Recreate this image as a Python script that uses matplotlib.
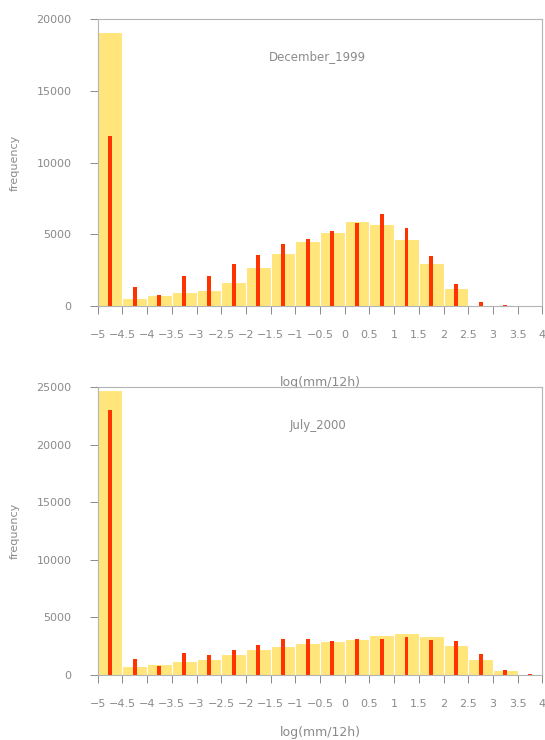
################################################################################
# Precipitation histograms: two months, log(mm/12h)
################################################################################

import numpy as np
from matplotlib import pyplot as plt
from matplotlib.ticker import FuncFormatter


################################################################################
# Data
#
# bin edges (log10 of mm/12h), bins of 0.5________________________________________

edges = [-5.0, -4.5, -4.0, -3.5, -3.0, -2.5, -2.0, -1.5, -1.0, -0.5,
         0.0, 0.5, 1.0, 1.5, 2.0, 2.5, 3.0, 3.5, 4.0]

# December 1999________________________________________________________________

dec_wide = [19070, 540, 750, 960, 1140, 1700, 2750, 3680, 4510,
            5150, 5900, 5730, 4660, 3010, 1260, 100, 20, 0]
dec_thin = [11840, 1300, 790, 2120, 2120, 2940, 3520, 4310, 4670,
            5220, 5800, 6430, 5430, 3470, 1560, 260, 50, 0]

# July 2000_____________________________________________________________________

jul_wide = [24750, 810, 990, 1220, 1420, 1830, 2260, 2550, 2770,
            2930, 3130, 3480, 3680, 3420, 2610, 1360, 460, 60]
jul_thin = [23040, 1360, 810, 1910, 1710, 2170, 2580, 3160, 3130,
            2990, 3100, 3160, 3300, 3010, 2930, 1800, 410, 50]

panels = [('December_1999', dec_wide, dec_thin, 20000),
          ('July_2000',     jul_wide, jul_thin, 25000)]

xticks = np.arange(-5, 4.01, 0.5)


################################################################################
# Figure
################################################################################

grey   = '#8a8a8a'
yellow = '#ffe57a'
red    = '#ff3300'

plt.rcParams['font.family'] = ['DejaVu Sans']

fig = plt.figure(figsize=(5.45, 7.40), dpi=100)

# axes positions [left, bottom, width, height]
boxes = [[0.1793, 0.5865, 0.8158, 0.3878],
         [0.1793, 0.0878, 0.8158, 0.3888]]

# x label top, in axes fraction
xlab_y = [-0.244, -0.177]

left   = np.array(edges[:-1])
width  = np.diff(edges)
centre = left + width/2.

fmt = FuncFormatter(lambda v, p: ('%g' % v).replace('-', '\u2212'))

for (title, wide, thin, ymax), box, ly in zip(panels, boxes, xlab_y):

	ax = fig.add_axes(box)

	# histograms________________________________________________________________

	ax.bar(left, wide, width=width, align='edge', color=yellow,
	       edgecolor='white', linewidth=0.8, zorder=1)
	ax.bar(centre, thin, width=0.08, color=red, linewidth=0, zorder=2)

	# axes______________________________________________________________________

	ax.set_xlim(-5, 4)
	ax.set_ylim(0, ymax)
	ax.set_xticks(xticks)
	ax.set_yticks(np.arange(0, ymax + 1, 5000))
	ax.xaxis.set_major_formatter(fmt)

	for s in ax.spines.values():
		s.set_color('#b4b4b4')
		s.set_linewidth(0.8)
	ax.tick_params(direction='out', length=6, width=0.7, color=grey,
	               labelcolor=grey, labelsize=8)
	ax.tick_params(axis='y', pad=13)
	ax.tick_params(axis='x', pad=11)

	ax.set_ylabel('frequency', color=grey, fontsize=8)
	ax.yaxis.set_label_coords(-0.175, 0.5)
	ax.set_xlabel('log(mm/12h)', color=grey, fontsize=9)
	ax.xaxis.set_label_coords(0.5, ly)

	ax.text(0.495, 0.868, title, transform=ax.transAxes, color=grey,
	        fontsize=8.5, ha='center', va='center')

fig.savefig('out.png', dpi=100)
